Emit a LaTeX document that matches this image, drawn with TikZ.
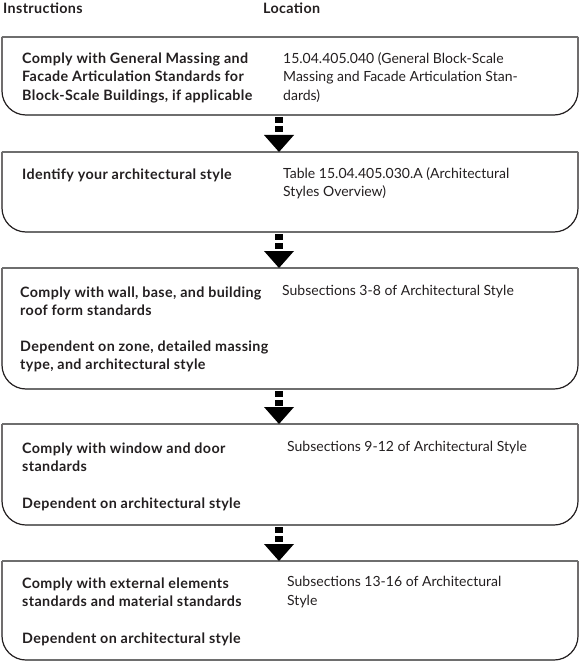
\documentclass[tikz,border=0pt]{standalone}
\usepackage{fontspec}
\setmainfont{Lato}
\usetikzlibrary{arrows.meta}
\definecolor{ink}{HTML}{231F20}
\definecolor{edgegray}{HTML}{6E6E6E}
\tikzset{
  boxarea/.style={minimum width=576pt, inner sep=0pt, outer sep=0pt, draw=none},
  boxside/.style={draw=ink, line width=1.2pt},
  boxedge/.style={draw=edgegray, line width=1.4pt},
  instr/.style={anchor=north west, inner sep=0pt, align=left, text=ink,
    font=\bfseries\fontsize{14.3}{18.5}\selectfont\addfontfeatures{LetterSpace=2.5}},
  loctext/.style={anchor=north west, inner sep=0pt, align=left, text=ink,
    font=\fontsize{14}{18.5}\selectfont},
  header/.style={anchor=north west, inner sep=0pt, text=ink,
    font=\bfseries\fontsize{14.3}{18.5}\selectfont\addfontfeatures{LetterSpace=2.5}},
  flowarrow/.style={draw=black, line width=8pt, dash pattern=on 6pt off 3pt,
    -{Triangle[width=30pt,length=17pt,line width=0pt]}}
}
\newcommand\flowoutline[1]{%
  \draw[boxside] (#1.north west) -- ([yshift=24pt]#1.south west)
     arc[start angle=180,end angle=270,radius=24pt];
  \draw[boxside] (#1.north east) -- ([yshift=24pt]#1.south east)
     arc[start angle=0,end angle=-90,radius=24pt];
  \draw[boxedge] (#1.north west) -- (#1.north east);
  \draw[boxedge] ([xshift=24pt]#1.south west) -- ([xshift=-24pt]#1.south east);
}
\begin{document}
\begin{tikzpicture}[x=1pt,y=1pt]
\useasboundingbox (0,0) rectangle (585,-663);

% headers
\node[header] (hins) at (3,-2.5) {Instructions};
\node[header] (hloc) at (263,-2.5) {Location};

% boxes
\node[boxarea, minimum height=78pt]  (b1) at (290,-76) {};
\node[boxarea, minimum height=80pt]  (b2) at (290,-192) {};
\node[boxarea, minimum height=121pt] (b3) at (290,-328.5) {};
\node[boxarea, minimum height=101pt] (b4) at (290,-474.5) {};
\node[boxarea, minimum height=99pt]  (b5) at (290,-610.5) {};
\flowoutline{b1}
\flowoutline{b2}
\flowoutline{b3}
\flowoutline{b4}
\flowoutline{b5}

% texts box 1
\node[instr] (t1a) at (22,-52.5) {Comply with General Massing and\\Facade Articulation Standards for\\Block-Scale Buildings, if applicable};
\node[loctext] (l1) at (283,-52) {15.04.405.040 (General Block-Scale\\Massing and Facade Articulation Stan-\\dards)};

% box 2
\node[instr] (t2a) at (22,-168.5) {Identify your architectural style};
\node[loctext] (l2) at (283,-167) {Table 15.04.405.030.A (Architectural\\Styles Overview)};

% box 3
\node[instr] (t3a) at (20,-286.5) {Comply with wall, base, and building\\roof form standards};
\node[instr] (t3b) at (20,-340.5) {Dependent on zone, detailed massing\\type, and architectural style};
\node[loctext] (l3) at (282,-285) {Subsections 3-8 of Architectural Style};

% box 4
\node[instr] (t4a) at (22,-442.5) {Comply with window and door\\standards};
\node[instr] (t4b) at (22,-497.5) {Dependent on architectural style};
\node[loctext] (l4) at (287,-441) {Subsections 9-12 of Architectural Style};

% box 5
\node[instr] (t5a) at (22,-577.5) {Comply with external elements\\standards and material standards};
\node[instr] (t5b) at (22,-632.5) {Dependent on architectural style};
\node[loctext] (l5) at (287,-576) {Subsections 13-16 of Architectural\\Style};

% arrows
\coordinate (ax) at (279,0);
\draw[flowarrow] ([yshift=-2pt]b1.south -| ax) -- (b2.north -| ax);
\draw[flowarrow] ([yshift=-2pt]b2.south -| ax) -- (b3.north -| ax);
\draw[flowarrow] ([yshift=-2pt]b3.south -| ax) -- (b4.north -| ax);
\draw[flowarrow] ([yshift=-2pt]b4.south -| ax) -- (b5.north -| ax);
\end{tikzpicture}
\end{document}
